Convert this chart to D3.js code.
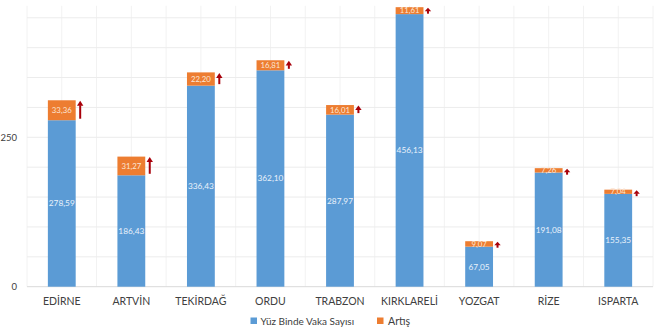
<!DOCTYPE html>
<html>
<head>
<meta charset="utf-8">
<script src="https://cdn.jsdelivr.net/npm/d3@7"></script>
<style>
  html, body { margin: 0; padding: 0; background: #fff; }
  svg { display: block; font-family: Lato, "Open Sans", sans-serif; }
</style>
</head>
<body>
<svg id="chart" width="660" height="330"></svg>
<script>
// Provinces and their case counts per hundred thousand, with the weekly increase
const provinces = ["EDİRNE", "ARTVİN", "TEKİRDAĞ", "ORDU", "TRABZON", "KIRKLARELİ", "YOZGAT", "RİZE", "ISPARTA"];
const baseValues = [278.59, 186.43, 336.43, 362.10, 287.97, 456.13, 67.05, 191.08, 155.35];
const increaseValues = [33.36, 31.27, 22.20, 16.81, 16.01, 11.61, 9.07, 7.26, 7.04];
const yTickLabels = [0, 250];
const gridValues = [50, 100, 150, 200, 250, 300, 350, 400, 450];
const seriesNames = ["Yüz Binde Vaka Sayısı", "Artış"];

const colors = { base: "#5B9BD5", increase: "#ED7D31", arrow: "#A8000A", grid: "#ECECEC", text: "#404040" };
const fmt = v => v.toFixed(2).replace(".", ",");

const svg = d3.select("#chart");
const plotLeft = 27, plotRight = 653, plotBottom = 286.7;

const x = d3.scaleBand().domain(provinces).range([plotLeft, plotRight]).paddingInner(0.6).paddingOuter(0.3);
const xFull = d3.scaleBand().domain(provinces).range([plotLeft, plotRight]);
const y = d3.scaleLinear().domain([0, 480]).range([plotBottom, plotBottom - 480 * 0.5976]);

// vertical gridlines at category edges and centers
const vLines = [];
provinces.forEach(p => {
  vLines.push(xFull(p));
  vLines.push(xFull(p) + xFull.bandwidth() / 2);
});
vLines.push(plotRight);
svg.append("g").selectAll("line").data(vLines).join("line")
  .attr("x1", d => d).attr("x2", d => d)
  .attr("y1", y(450) - 12).attr("y2", plotBottom)
  .attr("stroke", "#F2F2F2").attr("stroke-width", 1);

// horizontal gridlines
svg.append("g").selectAll("line").data(gridValues).join("line")
  .attr("x1", plotLeft).attr("x2", plotRight)
  .attr("y1", d => y(d)).attr("y2", d => y(d))
  .attr("stroke", colors.grid).attr("stroke-width", 1);

// baseline
svg.append("line").attr("x1", plotLeft).attr("x2", plotRight)
  .attr("y1", y(0)).attr("y2", y(0)).attr("stroke", "#D9D9D9");

// y-axis labels
const yAxis = d3.axisLeft(y).tickValues(yTickLabels).tickSize(0).tickPadding(8);
svg.append("g").attr("transform", `translate(${plotLeft - 2},0)`).call(yAxis)
  .call(g => g.select(".domain").remove())
  .call(g => g.selectAll("text").attr("fill", colors.text).attr("font-size", 9.5).attr("font-family", "Lato, sans-serif"));

const rows = provinces.map((p, i) => ({ p, base: baseValues[i], inc: increaseValues[i] }));
const bw = x.bandwidth();

// base segments
svg.append("g").selectAll("rect").data(rows).join("rect")
  .attr("x", d => x(d.p)).attr("width", bw)
  .attr("y", d => y(d.base)).attr("height", d => y(0) - y(d.base))
  .attr("fill", colors.base);

// increase segments
svg.append("g").selectAll("rect").data(rows).join("rect")
  .attr("x", d => x(d.p)).attr("width", bw)
  .attr("y", d => y(d.base + d.inc)).attr("height", d => y(d.base) - y(d.base + d.inc))
  .attr("fill", colors.increase);

// base labels
svg.append("g").selectAll("text").data(rows).join("text")
  .attr("x", d => x(d.p) + bw / 2)
  .attr("y", d => (y(0) + y(d.base)) / 2)
  .attr("dy", "0.35em").attr("text-anchor", "middle")
  .attr("fill", "#EAF2FB").attr("font-size", 8.3)
  .text(d => fmt(d.base));

// increase labels
svg.append("g").selectAll("text").data(rows).join("text")
  .attr("x", d => x(d.p) + bw / 2)
  .attr("y", d => (y(d.base) + y(d.base + d.inc)) / 2)
  .attr("dy", "0.35em").attr("text-anchor", "middle")
  .attr("fill", "#FBE6D6").attr("font-size", 7.8)
  .text(d => fmt(d.inc));

// upward arrows beside each increase
const arrows = svg.append("g");
rows.forEach(d => {
  const ax = x(d.p) + bw + 4.5;
  const yTop = y(d.base + d.inc) + 0.5;
  const yBot = Math.max(y(d.base) - 1.5, yTop + 6);
  const head = Math.min(5, (yBot - yTop) * 0.6);
  arrows.append("line")
    .attr("x1", ax).attr("x2", ax)
    .attr("y1", yTop + head - 0.5).attr("y2", yBot)
    .attr("stroke", colors.arrow).attr("stroke-width", 2);
  arrows.append("path")
    .attr("d", `M${ax - 3.2},${yTop + head} L${ax},${yTop} L${ax + 3.2},${yTop + head} Z`)
    .attr("fill", colors.arrow);
});

// category labels
svg.append("g").selectAll("text").data(provinces).join("text")
  .attr("x", d => x(d) + bw / 2).attr("y", 301.5)
  .attr("dy", "0.35em").attr("text-anchor", "middle")
  .attr("fill", colors.text).attr("font-size", 10.5)
  .text(d => d);

// legend
const legend = svg.append("g").attr("fill", colors.text);
legend.append("rect").attr("x", 250.5).attr("y", 317.5).attr("width", 6.5).attr("height", 6.5).attr("fill", colors.base);
legend.append("text").attr("x", 260.5).attr("y", 321).attr("dy", "0.35em").attr("font-size", 10)
  .attr("fill", colors.text).text(seriesNames[0]);
legend.append("rect").attr("x", 377).attr("y", 317.5).attr("width", 6.5).attr("height", 6.5).attr("fill", colors.increase);
legend.append("text").attr("x", 388).attr("y", 321).attr("dy", "0.35em").attr("font-size", 10.6)
  .attr("fill", colors.text).text(seriesNames[1]);
</script>
</body>
</html>
